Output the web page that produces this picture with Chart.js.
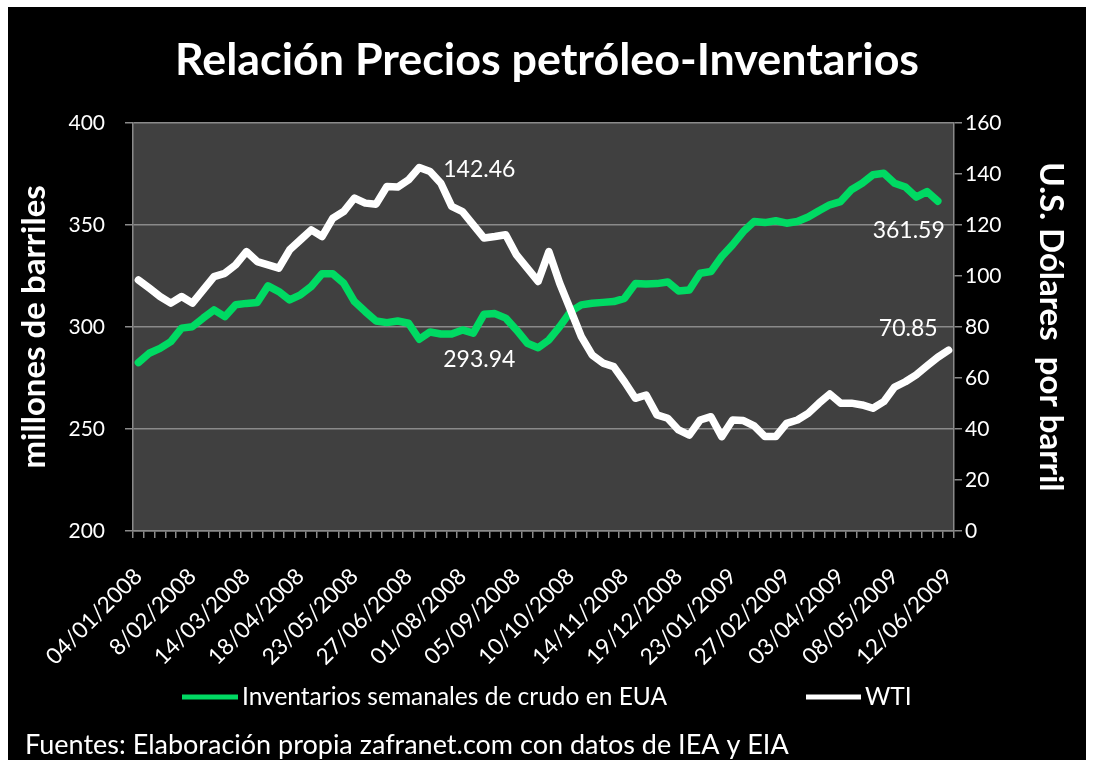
<!DOCTYPE html>
<html>
<head>
<meta charset="utf-8">
<script src="https://cdn.jsdelivr.net/npm/chart.js@4.4.0/dist/chart.umd.min.js"></script>
<style>
  html, body { margin: 0; padding: 0; background: #fff; }
</style>
</head>
<body>
<canvas id="chart" width="1094" height="760"></canvas>
<script>
// weekly dates (Friday), Jan 2008 - Jun 2009
var semanas = [
  '04/01/2008', '11/01/2008', '18/01/2008', '25/01/2008', '01/02/2008',
  '8/02/2008', '15/02/2008', '22/02/2008', '29/02/2008', '07/03/2008',
  '14/03/2008', '21/03/2008', '28/03/2008', '04/04/2008', '11/04/2008',
  '18/04/2008', '25/04/2008', '02/05/2008', '09/05/2008', '16/05/2008',
  '23/05/2008', '30/05/2008', '06/06/2008', '13/06/2008', '20/06/2008',
  '27/06/2008', '04/07/2008', '11/07/2008', '18/07/2008', '25/07/2008',
  '01/08/2008', '08/08/2008', '15/08/2008', '22/08/2008', '29/08/2008',
  '05/09/2008', '12/09/2008', '19/09/2008', '26/09/2008', '03/10/2008',
  '10/10/2008', '17/10/2008', '24/10/2008', '31/10/2008', '07/11/2008',
  '14/11/2008', '21/11/2008', '28/11/2008', '05/12/2008', '12/12/2008',
  '19/12/2008', '26/12/2008', '02/01/2009', '09/01/2009', '16/01/2009',
  '23/01/2009', '30/01/2009', '06/02/2009', '13/02/2009', '20/02/2009',
  '27/02/2009', '06/03/2009', '13/03/2009', '20/03/2009', '27/03/2009',
  '03/04/2009', '10/04/2009', '17/04/2009', '24/04/2009', '01/05/2009',
  '08/05/2009', '15/05/2009', '22/05/2009', '29/05/2009', '05/06/2009',
  '12/06/2009'
];

// labels shown under the axis
var etiquetasEje = [
  '04/01/2008', '8/02/2008', '14/03/2008', '18/04/2008', '23/05/2008',
  '27/06/2008', '01/08/2008', '05/09/2008', '10/10/2008', '14/11/2008',
  '19/12/2008', '23/01/2009', '27/02/2009', '03/04/2009', '08/05/2009',
  '12/06/2009'
];

// millones de barriles (no value yet for the last week)
var inventarios = [
  282.5, 287.1, 289.5, 292.8, 299.4, 300.1, 304.3, 308.3, 305.0, 310.8,
  311.5, 311.9, 320.1, 317.3, 313.2, 315.7, 319.8, 326.0, 326.0, 321.4,
  312.4, 307.5, 302.9, 302.1, 302.9, 301.8, 293.94, 297.5, 296.5, 296.5,
  298.5, 296.9, 306.2, 306.5, 304.3, 298.5, 292.0, 289.8, 293.6, 300.1,
  307.5, 310.8, 311.6, 312.0, 312.4, 314.0, 321.2, 321.0, 321.2, 322.0,
  317.6, 318.1, 326.3, 327.1, 334.5, 340.2, 346.7, 351.6, 351.1, 352.0,
  350.8, 351.6, 353.8, 356.9, 359.8, 361.4, 367.2, 370.4, 374.5, 375.3,
  370.4, 368.5, 363.6, 366.3, 361.59, null
];

// WTI, US$ por barril
var wti = [
  98.4, 95.2, 91.9, 89.3, 91.9, 89.3, 94.5, 99.7, 101.0, 104.3,
  109.5, 105.6, 104.3, 103.0, 110.2, 114.1, 118.0, 115.4, 122.6, 125.2,
  130.5, 128.5, 128.1, 135.0, 134.8, 137.6, 142.46, 140.9, 136.3, 127.2,
  125.2, 120.0, 114.8, 115.4, 116.1, 108.2, 103.0, 97.8, 109.5, 97.1,
  86.7, 76.2, 69.0, 65.8, 64.4, 58.5, 52.0, 53.3, 45.5, 44.2,
  39.6, 37.6, 43.5, 44.8, 37.0, 43.5, 43.3, 41.2, 37.0, 37.0,
  42.2, 43.5, 46.1, 50.1, 53.7, 50.1, 50.1, 49.4, 48.1, 50.7,
  56.4, 58.5, 61.2, 64.7, 68.1, 70.85
];

// labelled points: [dataset, index]
var etiquetasDatos = [
  { ds: 1, idx: 26, dx: 24, dy: 2, align: 'left' },
  { ds: 0, idx: 26, dx: 24, dy: 20, align: 'left' },
  { ds: 0, idx: 74, dx: 7, dy: 29, align: 'right' },
  { ds: 1, idx: 75, dx: -11, dy: -22, align: 'right' }
];

var VERDE = '#00da63';
var GRIS = '#8a8a8a';

Chart.defaults.font.family = 'Lato, sans-serif';
Chart.defaults.color = '#ffffff';

var fondo = {
  id: 'fondo',
  beforeDraw: function (chart) {
    var ctx = chart.ctx;
    var a = chart.chartArea;
    ctx.save();
    ctx.fillStyle = '#ffffff';
    ctx.fillRect(0, 0, chart.width, chart.height);
    ctx.fillStyle = '#000000';
    ctx.fillRect(8, 7, chart.width - 16, chart.height - 7);
    ctx.fillStyle = '#404040';
    ctx.fillRect(a.left, a.top, a.right - a.left, a.bottom - a.top);
    ctx.restore();
  }
};

var valores = {
  id: 'valores',
  afterDatasetsDraw: function (chart) {
    var ctx = chart.ctx;
    ctx.save();
    ctx.font = '23px Lato';
    ctx.fillStyle = '#ffffff';
    ctx.textBaseline = 'middle';
    etiquetasDatos.forEach(function (e) {
      var pt = chart.getDatasetMeta(e.ds).data[e.idx];
      var v = chart.data.datasets[e.ds].data[e.idx];
      ctx.textAlign = e.align;
      ctx.fillText(v.toFixed(2), pt.x + e.dx, pt.y + e.dy);
    });
    ctx.restore();
  }
};

// Excel-like legend + source note under the axis
var leyenda = {
  id: 'leyenda',
  afterDraw: function (chart) {
    var ctx = chart.ctx;
    var y = 697;
    var items = [
      { ds: 0, x: 182, w: 56 },
      { ds: 1, x: 806, w: 55 }
    ];
    ctx.save();
    ctx.font = '24.5px Lato';
    ctx.textBaseline = 'middle';
    ctx.textAlign = 'left';
    items.forEach(function (it) {
      var ds = chart.data.datasets[it.ds];
      ctx.strokeStyle = ds.borderColor;
      ctx.lineWidth = 5;
      ctx.beginPath();
      ctx.moveTo(it.x, y);
      ctx.lineTo(it.x + it.w, y);
      ctx.stroke();
      ctx.fillStyle = '#ffffff';
      ctx.fillText(ds.label, it.x + it.w + 4, y);
    });
    ctx.font = '27px Lato';
    ctx.fillText('Fuentes: Elaboración propia zafranet.com con datos de IEA y EIA', 25, 745);
    ctx.restore();
  }
};

var ctx = document.getElementById('chart').getContext('2d');
var chart = new Chart(ctx, {
  type: 'line',
  data: {
    labels: semanas,
    datasets: [{
      label: 'Inventarios semanales de crudo en EUA',
      data: inventarios,
      yAxisID: 'y',
      borderColor: VERDE,
      borderWidth: 7.5,
      borderJoinStyle: 'round',
      borderCapStyle: 'round',
      pointRadius: 0,
      tension: 0,
      order: 1
    }, {
      label: 'WTI',
      data: wti,
      yAxisID: 'y1',
      borderColor: '#ffffff',
      borderWidth: 7.5,
      borderJoinStyle: 'round',
      borderCapStyle: 'round',
      pointRadius: 0,
      tension: 0,
      order: 0
    }]
  },
  options: {
    responsive: false,
    animation: false,
    layout: {
      padding: { left: 8, right: 8, top: 7, bottom: 79 }
    },
    plugins: {
      legend: { display: false },
      tooltip: { enabled: false },
      title: {
        display: true,
        text: 'Relación Precios petróleo-Inventarios',
        color: '#ffffff',
        font: { size: 44.8, weight: 'bold' },
        padding: { top: 27, bottom: 35 }
      }
    },
    scales: {
      x: {
        offset: true,
        grid: {
          offset: true,
          drawOnChartArea: false,
          tickLength: 7,
          color: GRIS,
          lineWidth: 1.5
        },
        border: { color: GRIS, width: 1.5 },
        ticks: {
          autoSkip: false,
          maxRotation: 45,
          minRotation: 45,
          padding: 25,
          color: '#ffffff',
          font: { size: 22.5 },
          callback: function (value) {
            var lab = this.getLabelForValue(value);
            return etiquetasEje.includes(lab) ? lab : '';
          }
        },
        afterFit: function (scale) { scale.height = 150; }
      },
      y: {
        position: 'left',
        min: 200,
        max: 400,
        grid: { color: GRIS, lineWidth: 1.5, tickLength: 8 },
        border: { color: GRIS, width: 1.5 },
        ticks: { stepSize: 50, padding: 20, color: '#ffffff', font: { size: 21 } },
        title: {
          display: true,
          text: 'millones de barriles',
          color: '#ffffff',
          font: { size: 33, weight: 'bold' },
          padding: { top: 7, bottom: 0 }
        },
        afterFit: function (scale) { scale.width = 125; }
      },
      y1: {
        position: 'right',
        min: 0,
        max: 160,
        grid: { drawOnChartArea: false, color: GRIS, lineWidth: 1.5, tickLength: 8 },
        border: { color: GRIS, width: 1.5 },
        ticks: { stepSize: 20, padding: 3, color: '#ffffff', font: { size: 21 } },
        title: {
          display: true,
          text: 'U.S. Dólares  por barril',
          color: '#ffffff',
          font: { size: 33, weight: 'bold' },
          padding: { top: 16, bottom: 0 }
        },
        afterFit: function (scale) { scale.width = 132; }
      }
    }
  },
  plugins: [fondo, valores, leyenda]
});
</script>
</body>
</html>
